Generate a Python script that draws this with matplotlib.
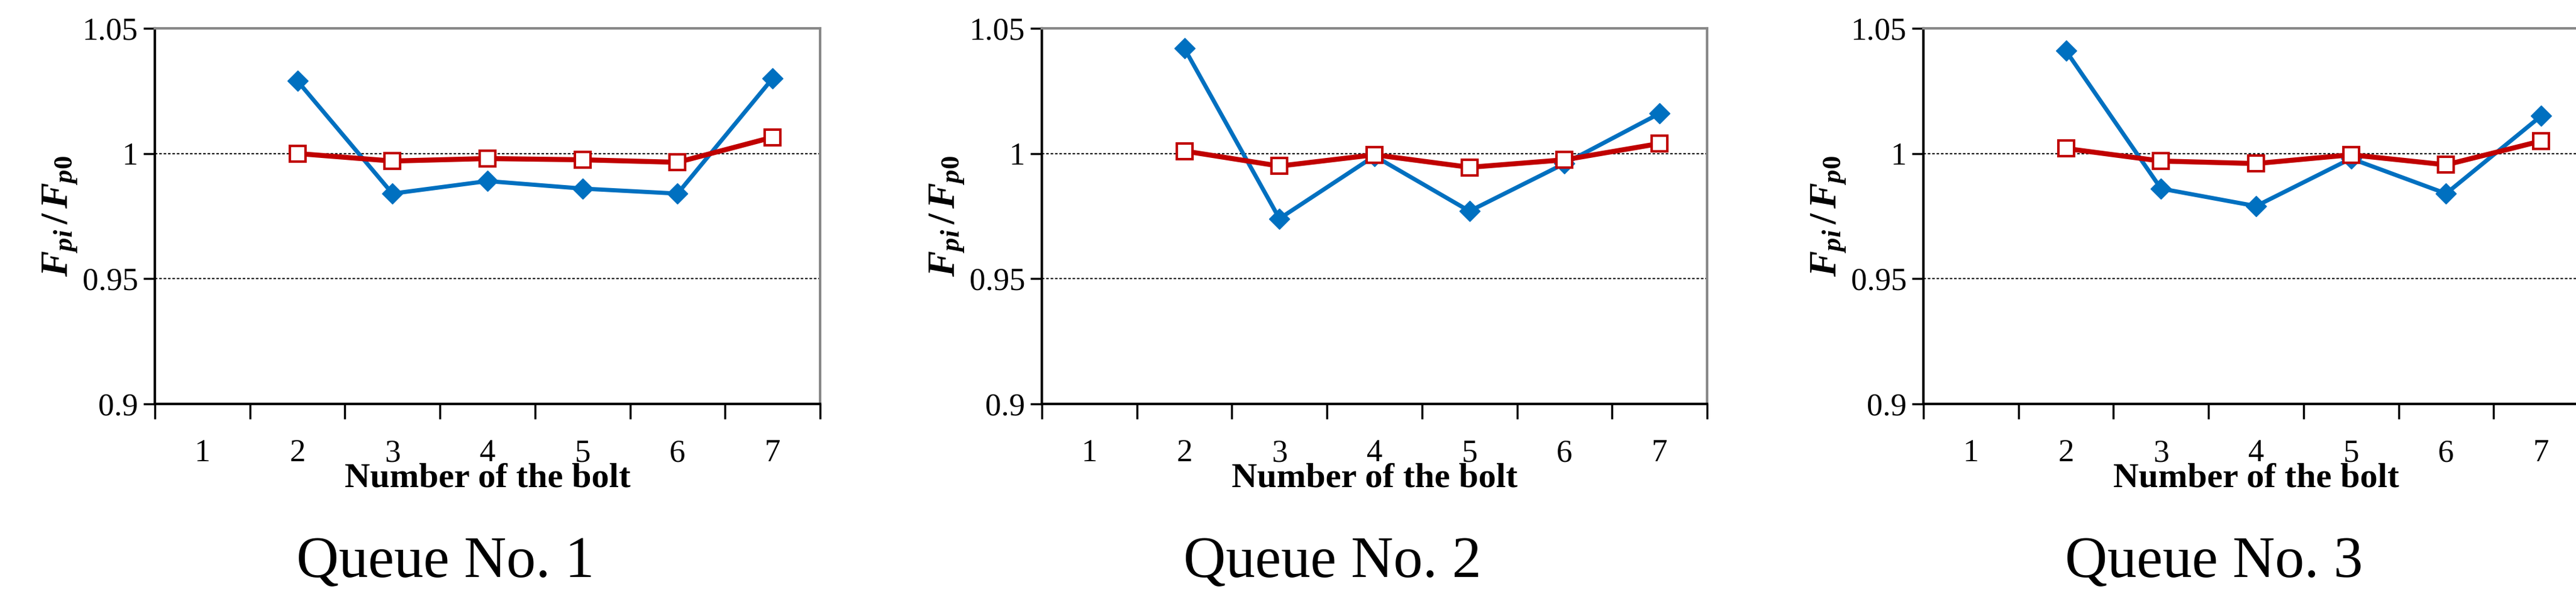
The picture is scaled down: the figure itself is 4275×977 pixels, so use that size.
import matplotlib
matplotlib.use("Agg")
import matplotlib.pyplot as plt

plt.rcParams['font.family'] = ['Liberation Serif', 'DejaVu Serif']
plt.rcParams['mathtext.fontset'] = 'custom'
plt.rcParams['mathtext.it'] = 'Liberation Serif:italic:bold'
plt.rcParams['mathtext.rm'] = 'Liberation Serif:bold'

categories = [1, 2, 3, 4, 5, 6, 7]
bolts = [2, 3, 4, 5, 6, 7]
titles = ["Queue No. 1", "Queue No. 2", "Queue No. 3"]
blue = [
    [1.029, 0.984, 0.989, 0.986, 0.984, 1.030],
    [1.042, 0.974, 0.999, 0.977, 0.996, 1.016],
    [1.041, 0.986, 0.979, 0.998, 0.984, 1.015],
]
red = [
    [1.000, 0.997, 0.998, 0.9975, 0.9965, 1.0065],
    [1.001, 0.995, 0.9995, 0.9945, 0.9975, 1.004],
    [1.002, 0.997, 0.996, 0.9995, 0.9955, 1.005],
]
yticks = [0.9, 0.95, 1.0, 1.05]
ytlabels = ["0.9", "0.95", "1", "1.05"]

W, H = 4275, 977
fig = plt.figure(figsize=(W/100, H/100), dpi=100)
lefts = [257, 1729, 3192]
for i in range(3):
    ax = fig.add_axes([lefts[i]/W, 1-670/H, 1104/W, (670-47)/H])
    ax.set_xlim(0.5, 7.5)
    ax.set_ylim(0.9, 1.05)
    for y in (0.95, 1.0):
        ax.axhline(y, color='black', lw=1.5, ls=(0, (2, 1.5)), zorder=1)
    ax.plot(bolts, blue[i], color='#0070C0', lw=5, marker='D', ms=17, zorder=3)
    ax.plot(bolts, red[i], color='#C00000', lw=6, marker='s', ms=19,
            mfc='white', mec='#C00000', mew=3, zorder=4)
    ax.set_yticks(yticks)
    ax.set_yticklabels(ytlabels, fontsize=38)
    ax.set_xticks([c + 0.5 for c in categories[:-1]] + [0.5, 7.5])
    ax.set_xticklabels([])
    ax.set_xticks(categories, minor=True)
    ax.set_xticklabels([str(c) for c in categories], minor=True, fontsize=38)
    ax.tick_params(axis='x', which='major', length=18, width=2.5, direction='out')
    ax.tick_params(axis='x', which='minor', length=0, pad=42)
    ax.tick_params(axis='y', length=14, width=2.5, direction='out', pad=6)
    for s in ('top', 'right'):
        ax.spines[s].set_color('#888888')
        ax.spines[s].set_linewidth(3)
    for s in ('left', 'bottom'):
        ax.spines[s].set_linewidth(3)
    ax.set_xlabel("Number of the bolt", fontsize=42, fontweight='bold', labelpad=-6)
    ax.set_ylabel(r"$F_{pi}\,/\,F_{p0}$", fontsize=46, labelpad=4)
    fig.text((lefts[i] + 1104/2 - 70)/W, 0.02, titles[i], fontsize=70, ha='center')

fig.savefig("out.png", dpi=100)
